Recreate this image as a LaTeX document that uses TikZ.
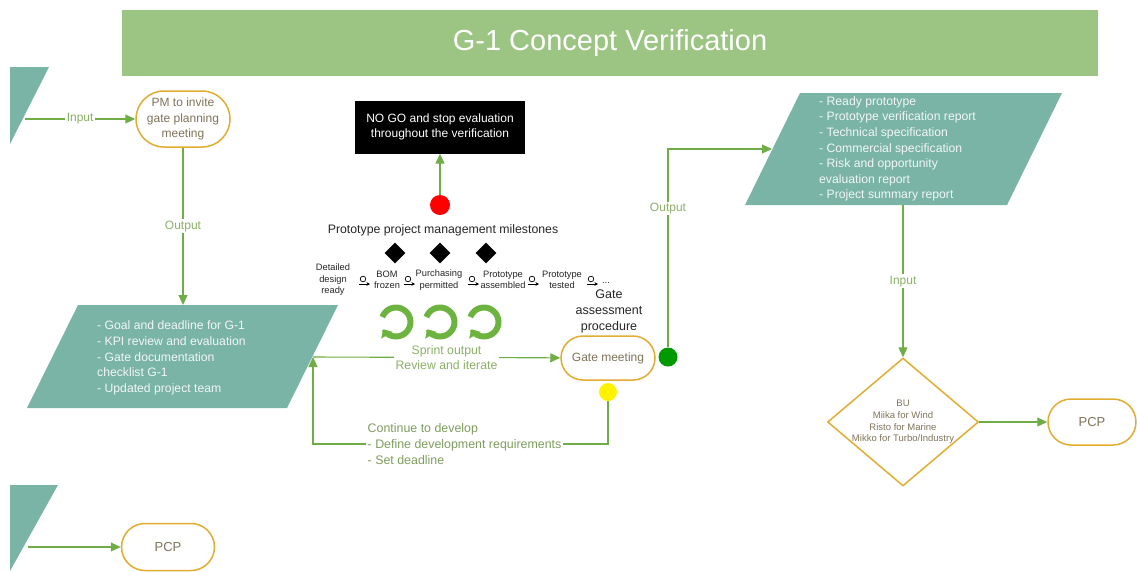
\documentclass[tikz,border=0pt]{standalone}
\usepackage{fontspec}
\setmainfont{Liberation Sans}
\usetikzlibrary{shapes.geometric,shapes.misc,arrows.meta,positioning}

\definecolor{tealfill}{HTML}{7AB4A7}
\definecolor{titlegreen}{HTML}{9CC583}
\definecolor{flowgreen}{HTML}{70AD47}
\definecolor{lblgreen}{HTML}{8CB068}
\definecolor{gold}{HTML}{E2AC30}
\definecolor{nodetxt}{HTML}{7F7459}
\definecolor{paratxt}{HTML}{F2F6F4}
\definecolor{sprintgreen}{HTML}{6DB33F}

\begin{document}
\begin{tikzpicture}[x=1pt,y=-1pt,
    pill/.style={rounded rectangle, draw=gold, line width=1.5pt, fill=white,
      text=nodetxt, font=\fontsize{12}{15.5}\selectfont, align=center, inner sep=0pt},
    flow/.style={draw=flowgreen, line width=1.1pt, -{Triangle[width=9pt,length=10pt]}},
    lbl/.style={fill=white, text=lblgreen, font=\fontsize{12}{15.5}\selectfont, inner sep=1.5pt},
    paratext/.style={text=paratxt, font=\fontsize{12.2}{15.6}\selectfont, align=left,
      anchor=west, inner sep=0pt},
    mstext/.style={text=black!85, font=\fontsize{9.3}{11.5}\selectfont, align=center, inner sep=0pt},
    msicon/.style={-{Stealth[length=3.5pt,width=3.5pt]}, line width=0.7pt},
    milestone/.style={diamond, fill=black, minimum size=21pt, inner sep=0pt},
    dot/.style={circle, minimum size=19pt, inner sep=0pt},
    sprint/.style={draw=sprintgreen, line width=6pt, -{Triangle[width=13pt,length=7pt]}}
  ]
    \useasboundingbox (0,0) rectangle (1137,571);

    % Title bar
    \node[fill=titlegreen, minimum width=976pt, minimum height=66pt, text=white,
      font=\fontsize{29}{34}\selectfont] (title) at (610,43) {G-1 Concept Verification};

    % Input shapes cut by the left edge
    \fill[tealfill] (10,67) -- (49,67) -- (10,144) -- cycle;
    \fill[tealfill] (10,485) -- (58,485) -- (10,571) -- cycle;
    \coordinate (intop) at (25,119);
    \coordinate (inlow) at (28,547);

    % Gate planning data
    \fill[tealfill] (78,305) -- (338,305) -- (287,408) -- (27,408) -- cycle;
    \node[paratext] (kpi) at (97,358) {- Goal and deadline for G-1\\- KPI review and evaluation\\- Gate documentation\\checklist G-1\\- Updated project team};
    \coordinate (kpitop) at (183,305);
    \coordinate (kpiright) at (313,357);

    % Gate output data
    \fill[tealfill] (800,93) -- (1062,93) -- (1007,205) -- (745,205) -- cycle;
    \node[paratext] (report) at (819,149) {- Ready prototype\\- Prototype verification report\\- Technical specification\\- Commercial specification\\- Risk and opportunity\\evaluation report\\- Project summary report};
    \coordinate (repleft) at (772,149);
    \coordinate (repbottom) at (903,205);

    % Process nodes
    \node[pill, minimum width=94pt, minimum height=56pt] (invite) at (183,119) {PM to invite\\gate planning\\meeting};
    \node[pill, minimum width=94pt, minimum height=44pt] (gate) at (608,358) {Gate meeting};
    \node[pill, minimum width=93pt, minimum height=47pt, font=\fontsize{13}{15}\selectfont] (pcplow) at (168,547) {PCP};
    \node[pill, minimum width=88pt, minimum height=46pt, font=\fontsize{13}{15}\selectfont] (pcpright) at (1092,422) {PCP};
    \node[diamond, draw=gold, line width=1.5pt, minimum width=151pt, minimum height=128pt,
      inner sep=0pt] (bu) at (903,422) {};
    \node[text=nodetxt, font=\fontsize{9.5}{11.7}\selectfont, align=center] (butext) at (903,422) {BU\\Miika for Wind\\Risto for Marine\\Mikko for Turbo/Industry};
    \node[fill=black, minimum width=170pt, minimum height=53pt, text=white,
      font=\fontsize{12}{15}\selectfont, align=center] (nogo) at (440,127) {NO GO and stop evaluation\\throughout the verification};
    \node[text=black!85, font=\fontsize{12.5}{16}\selectfont, align=center] (gateproc) at (609,311) {Gate\\assessment\\procedure};

    % Traffic lights
    \node[dot, fill=red, minimum size=20pt] (red) at (440,205) {};
    \node[dot, fill=green!60!black] (green) at (668,357) {};
    \node[dot, fill=yellow, minimum size=18pt] (yellow) at (608,392) {};

    % Milestones
    \node[text=black!85, font=\fontsize{12.3}{14}\selectfont] (mstitle) at (443,230) {Prototype project management milestones};
    \foreach \x [count=\i] in {395,440,486}
        \node[milestone] (md\i) at (\x,253) {};
    \node[mstext] (ms1) at (333,280) {Detailed\\design\\ready};
    \node[mstext] (ms2) at (387,280) {BOM\\frozen};
    \node[mstext] (ms3) at (439,280) {Purchasing\\permitted};
    \node[mstext] (ms4) at (503,280) {Prototype\\assembled};
    \node[mstext] (ms5) at (562,280) {Prototype\\tested};
    \node[mstext] (ms6) at (606,283) {...};
    \foreach \x in {364,409,473,533,592} {
        \draw[line width=0.7pt] (\x-1,279) circle[radius=2.8pt];
        \draw[msicon] (\x-5,284) -- (\x+6,284);
    }

    % Sprint loops
    \foreach \x [count=\i] in {396,440,484} {
        \coordinate (sp\i) at (\x,322);
        \draw[sprint] ([shift={(160:14.5pt)}]sp\i) arc[start angle=160, end angle=-150, radius=14.5pt];
    }

    % Connectors
    \draw[flow] (intop) -- node[lbl] {Input} (invite);
    \draw[flow] (invite) -- node[lbl] {Output} (kpitop);
    \draw[flow] (kpiright) -- node[lbl, pos=0.54, align=center, font=\fontsize{12.3}{15.5}\selectfont] {Sprint output\\Review and iterate} (gate);
    \draw[flow] (red) -- (nogo);
    \draw[flow] (green) |- node[lbl, pos=0.35] {Output} (repleft);
    \draw[flow] (repbottom) -- node[lbl] {Input} (bu);
    \draw[flow] (bu) -- (pcpright);
    \draw[flow] (inlow) -- (pcplow);
    \coordinate (loopcorner) at (313,444);
    \draw[flow] (yellow) |- (loopcorner) -- (kpiright);
    \node[lbl, anchor=west, align=left, text=lblgreen!90!black, font=\fontsize{12.4}{15.8}\selectfont] (develop) at (366,444) {Continue to develop\\- Define development requirements\\- Set deadline};
\end{tikzpicture}
\end{document}
